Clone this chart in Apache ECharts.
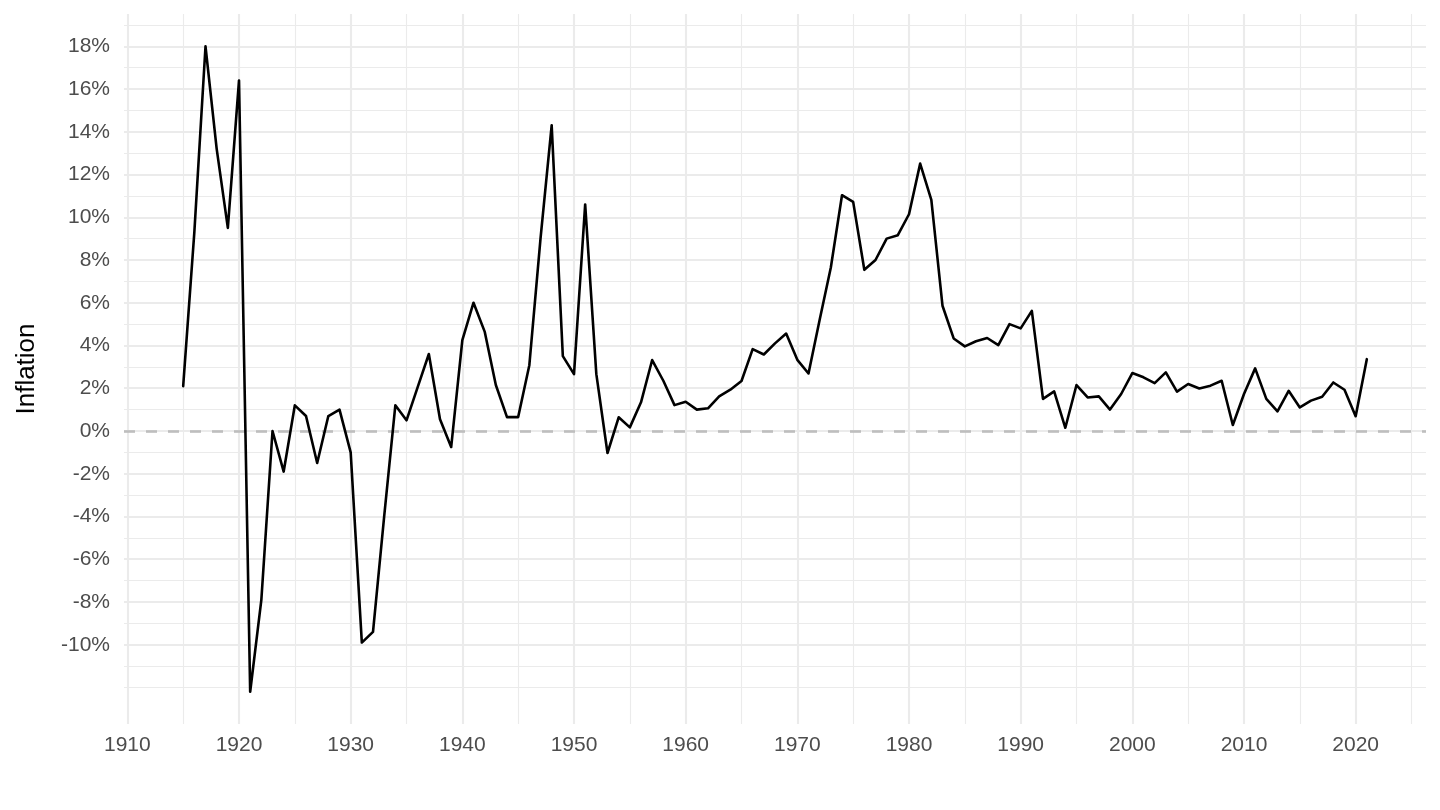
<!DOCTYPE html>
<html>
<head>
<meta charset="utf-8">
<script src="https://cdn.jsdelivr.net/npm/echarts@6/dist/echarts.min.js"></script>
<style>
html,body{margin:0;padding:0;background:#fff;}
#chart{width:1440px;height:810px;}
</style>
</head>
<body>
<div id="chart"></div>
<script>
// ---- data ----
var years = [];
for (var y = 1915; y <= 2021; y++) years.push(y);
var inflation = [
  2.1, 9.3, 18.0, 13.2, 9.5, 16.4, -12.2, -7.9, 0.0, -1.9,          // 1915-1924
  1.2, 0.7, -1.5, 0.7, 1.0, -1.0, -9.9, -9.4, -4.0, 1.2,            // 1925-1934
  0.5, 2.05, 3.6, 0.55, -0.75, 4.25, 6.0, 4.65, 2.15, 0.65,         // 1935-1944
  0.65, 3.08, 9.0, 14.3, 3.5, 2.66, 10.6, 2.66, -1.03, 0.64,        // 1945-1954
  0.17, 1.34, 3.32, 2.35, 1.21, 1.37, 1.0, 1.06, 1.62, 1.93,        // 1955-1964
  2.34, 3.83, 3.58, 4.1, 4.56, 3.33, 2.69, 5.2, 7.65, 11.03,        // 1965-1974
  10.72, 7.54, 8.0, 9.0, 9.16, 10.14, 12.51, 10.81, 5.86, 4.33,     // 1975-1984
  3.96, 4.2, 4.35, 4.02, 5.0, 4.8, 5.62, 1.5, 1.85, 0.15,           // 1985-1994
  2.15, 1.57, 1.62, 1.0, 1.73, 2.71, 2.51, 2.24, 2.74, 1.84,        // 1995-2004
  2.2, 1.99, 2.12, 2.35, 0.28, 1.73, 2.93, 1.5, 0.92, 1.88,         // 2005-2014
  1.1, 1.42, 1.6, 2.27, 1.93, 0.69, 3.36                            // 2015-2021
];
var xMajor = [1910, 1920, 1930, 1940, 1950, 1960, 1970, 1980, 1990, 2000, 2010, 2020];
var xMinor = [1915, 1925, 1935, 1945, 1955, 1965, 1975, 1985, 1995, 2005, 2015, 2025];
var yMajor = [-10, -8, -6, -4, -2, 0, 2, 4, 6, 8, 10, 12, 14, 16, 18];
var yMinor = [-12, -11, -9, -7, -5, -3, -1, 1, 3, 5, 7, 9, 11, 13, 15, 17, 19];
var refLine = [0];

// ---- ggplot-like expanded limits (5%) ----
var xLo = Math.min.apply(null, years), xHi = Math.max.apply(null, years);
var yLo = Math.min.apply(null, inflation), yHi = Math.max.apply(null, inflation);
var xPad = (xHi - xLo) * 0.05, yPad = (yHi - yLo) * 0.05;

var seriesData = years.map(function (yr, i) { return [yr, inflation[i]]; });

var FONT = 'Liberation Sans, Arial, Helvetica, sans-serif';
var GRID = '#ebebeb';

function vLines(arr) { return arr.map(function (v) { return { xAxis: v }; }); }
function hLines(arr) { return arr.map(function (v) { return { yAxis: v }; }); }
function refMarkLine(lines, z, style) {
  return {
    z: z,
    silent: true,
    animation: false,
    symbol: ['none', 'none'],
    label: { show: false },
    emphasis: { disabled: true },
    lineStyle: style,
    data: lines
  };
}

var chart = echarts.init(document.getElementById('chart'), null, { renderer: 'canvas' });
chart.setOption({
  animation: false,
  backgroundColor: '#ffffff',
  grid: { left: 124, right: 14, top: 14, bottom: 86, containLabel: false },
  xAxis: {
    type: 'value',
    min: xLo - xPad,
    max: xHi + xPad,
    axisLine: { show: false },
    axisTick: { show: false, customValues: xMajor },
    splitLine: { show: false },
    axisLabel: {
      customValues: xMajor,
      color: '#4d4d4d',
      fontFamily: FONT,
      fontSize: 21,
      margin: 11,
      formatter: function (v) { return String(Math.round(v)); }
    }
  },
  yAxis: {
    type: 'value',
    min: yLo - yPad,
    max: yHi + yPad,
    axisLine: { show: false },
    axisTick: { show: false, customValues: yMajor },
    splitLine: { show: false },
    name: 'Inflation',
    nameLocation: 'middle',
    nameGap: 84,
    nameTextStyle: { color: '#000000', fontFamily: FONT, fontSize: 26 },
    axisLabel: {
      customValues: yMajor,
      color: '#4d4d4d',
      fontFamily: FONT,
      fontSize: 21,
      margin: 14,
      formatter: function (v) { return Math.round(v) + '%'; }
    }
  },
  series: [
    {
      name: 'gridMinor', type: 'line', data: [], silent: true, z: 1,
      markLine: refMarkLine(vLines(xMinor).concat(hLines(yMinor)), 1,
        { color: GRID, width: 1.1, type: 'solid' })
    },
    {
      name: 'gridMajor', type: 'line', data: [], silent: true, z: 1,
      markLine: refMarkLine(vLines(xMajor).concat(hLines(yMajor)), 1.5,
        { color: GRID, width: 2.1, type: 'solid' })
    },
    {
      name: 'zero', type: 'line', data: [], silent: true, z: 2,
      markLine: refMarkLine(hLines(refLine), 2,
        { color: '#bebebe', width: 2.6, type: [11, 11] })
    },
    {
      name: 'Inflation',
      type: 'line',
      data: seriesData,
      z: 10,
      showSymbol: false,
      symbol: 'none',
      silent: true,
      lineStyle: { color: '#000000', width: 2.6, join: 'round', cap: 'round' }
    }
  ]
});
</script>
</body>
</html>
